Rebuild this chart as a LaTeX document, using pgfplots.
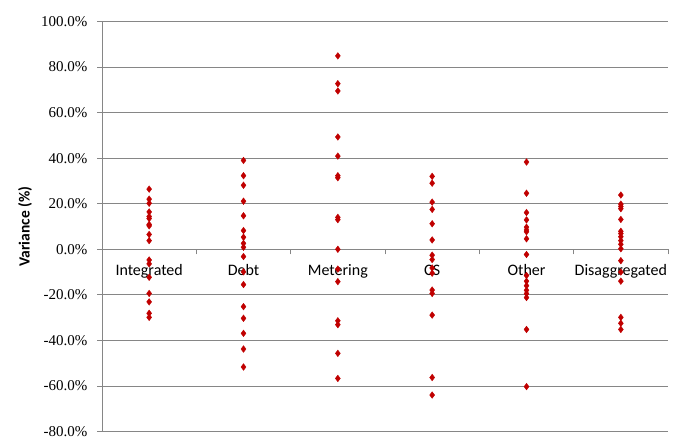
\documentclass[border=0pt]{standalone}
\usepackage{fontspec}
\setmainfont{Carlito}
\newfontfamily\tickfont{Liberation Serif}
\usepackage{pgfplots}
\pgfplotsset{compat=1.18}
\definecolor{mk}{RGB}{192,0,0}
\definecolor{gl}{RGB}{134,134,134}
\begin{document}
\begin{tikzpicture}
\begin{axis}[
  scale only axis, width=566pt, height=410pt,
  xmin=0.5, xmax=6.5, ymin=-80, ymax=100,
  axis x line*=middle, axis y line*=left,
  xtick={1,2,3,4,5,6},
  xticklabels={Integrated,Debt,Metering,CS,Other,Disaggregated},
  major x tick style={draw=none},
  minor xtick={0.5,1.5,2.5,3.5,4.5,5.5,6.5},
  ytick={-80,-60,-40,-20,0,20,40,60,80,100},
  tick align=outside,
  major tick length=5pt, minor tick length=5pt,
  ymajorgrids,
  grid style={gl, line width=0.8pt},
  axis line style={gl, line width=0.8pt},
  tick style={gl, line width=0.8pt},
  yticklabel={{\tickfont\fontsize{15}{15}\selectfont\pgfmathprintnumber[fixed,fixed zerofill,precision=1,assume math mode=true]{\tick}\%}},
  yticklabel style={text=black, xshift=-6pt},
  xticklabel style={font=\fontsize{16}{16}\selectfont, text=black, yshift=-7pt},
  ylabel={\bfseries Variance (\%)},
  ylabel style={font=\fontsize{15.5}{15.5}\selectfont, at={(axis description cs:-0.136,0.5)}, anchor=center},
  clip=false,
]
\coordinate (sw) at (rel axis cs:0,0);
\coordinate (ne) at (rel axis cs:1,1);
\addplot[only marks, mark=diamond*, mark size=3.3pt, mark options={draw=mk, fill=mk}] coordinates {
(1,26.4) (1,22.0) (1,20.2) (1,16.4) (1,14.4) (1,13.5) (1,10.9) (1,10.3) (1,6.5) (1,3.8)
(1,-4.7) (1,-6.4) (1,-12.3) (1,-19.4) (1,-23.1) (1,-28.1) (1,-29.9)
(2,39.0) (2,32.3) (2,28.1) (2,21.1) (2,14.7) (2,8.2) (2,5.3) (2,2.6) (2,0.9)
(2,-3.2) (2,-9.9) (2,-15.5) (2,-25.2) (2,-30.3) (2,-36.9) (2,-43.8) (2,-51.7)
(3,84.9) (3,72.7) (3,69.5) (3,49.3) (3,40.9) (3,32.3) (3,31.4) (3,14.0) (3,13.0) (3,0.0)
(3,-8.7) (3,-14.2) (3,-31.4) (3,-33.1) (3,-45.7) (3,-56.7)
(4,32.0) (4,29.0) (4,20.7) (4,17.5) (4,11.2) (4,4.1) (4,-2.6) (4,-4.5) (4,-8.2) (4,-10.5)
(4,-17.9) (4,-19.4) (4,-28.9) (4,-56.3) (4,-64.0)
(5,38.3) (5,24.6) (5,16.1) (5,12.9) (5,9.7) (5,8.5) (5,7.7) (5,4.6) (5,-2.3)
(5,-11.5) (5,-14.0) (5,-16.0) (5,-18.0) (5,-19.5) (5,-21.2) (5,-35.2) (5,-60.3)
(6,23.8) (6,19.8) (6,18.8) (6,17.8) (6,13.1) (6,7.9) (6,6.9) (6,5.5) (6,3.8) (6,2.2) (6,0.2)
(6,-5.0) (6,-10.0) (6,-14.0) (6,-29.9) (6,-32.5) (6,-35.2)
};
\end{axis}
\pgfresetboundingbox
\path[use as bounding box] ([shift={(-102pt,-8.5pt)}]sw) rectangle ([shift={(13pt,21.5pt)}]ne);
\end{tikzpicture}
\end{document}
